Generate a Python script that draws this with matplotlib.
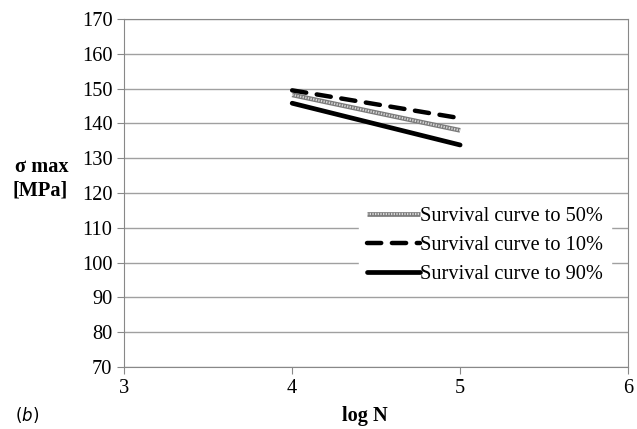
import matplotlib
matplotlib.use("Agg")
import matplotlib.pyplot as plt
from matplotlib.lines import Line2D

logN = [4, 5]
s50 = [148.2, 138.0]
s10 = [149.5, 141.5]
s90 = [145.8, 133.8]
xticks = [3, 4, 5, 6]
yticks = list(range(70, 171, 10))
labels = ['Survival curve to 50%', 'Survival curve to 10%', 'Survival curve to 90%']

plt.rcParams['font.family'] = ['Liberation Serif', 'DejaVu Serif']
plt.rcParams['mathtext.fontset'] = 'dejavusans'
FS = 14.7
W, H = 637, 429
fig = plt.figure(figsize=(W / 100, H / 100), dpi=100)
ax = fig.add_axes([0.195, 0.1445, 0.791, 0.8112])

ax.set_xlim(3, 6)
ax.set_ylim(70, 170)
ax.set_xticks(xticks)
ax.set_yticks(yticks)
ax.yaxis.grid(True, color='#a0a0a0', lw=1)
ax.set_axisbelow(True)
for s in ax.spines.values():
    s.set_color('#888888')
ax.tick_params(axis='both', labelsize=FS, color='#888888', direction='out', length=5)

# 50% hatched line
l50, = ax.plot(logN, s50, color='#7a7a7a', lw=3.4, solid_capstyle='butt')
ax.plot(logN, s50, color='#d8d8d8', lw=1.6, ls=(0, (0.6, 0.6)), solid_capstyle='butt')
l10, = ax.plot(logN, s10, color='black', lw=3.2, ls=(0, (3.2, 2.4)), dash_capstyle='round')
l90, = ax.plot(logN, s90, color='black', lw=3.4, solid_capstyle='round')

h50a = Line2D([], [], color='#7a7a7a', lw=3.4, solid_capstyle='butt')
h50b = Line2D([], [], color='#d8d8d8', lw=1.6, ls=(0, (0.6, 0.6)))
h10 = Line2D([], [], color='black', lw=3.2, ls=(0, (3.2, 2.4)), dash_capstyle='round')
leg = ax.legend([(h50a, h50b), h10, l90], labels,
                loc='upper left', bbox_to_anchor=(0.466, 0.483), borderaxespad=0,
                frameon=True, fancybox=False, edgecolor='white', framealpha=1,
                fontsize=FS, handlelength=2.6, handletextpad=0.0,
                labelspacing=0.47, borderpad=0.4)

fig.text(15 / W, 1 - 167 / H, 'σ max', fontsize=FS, fontweight='bold', ha='left', va='center')
fig.text(13 / W, 1 - 191 / H, '[MPa]', fontsize=FS, fontweight='bold', ha='left', va='center')
fig.text(365 / W, 1 - 421 / H, 'log N', fontsize=FS, fontweight='bold', ha='center', va='baseline')
fig.text(15 / W, 1 - 415 / H, r'$(b)$', fontsize=12, ha='left', va='center')

fig.savefig('out.png', dpi=100)
